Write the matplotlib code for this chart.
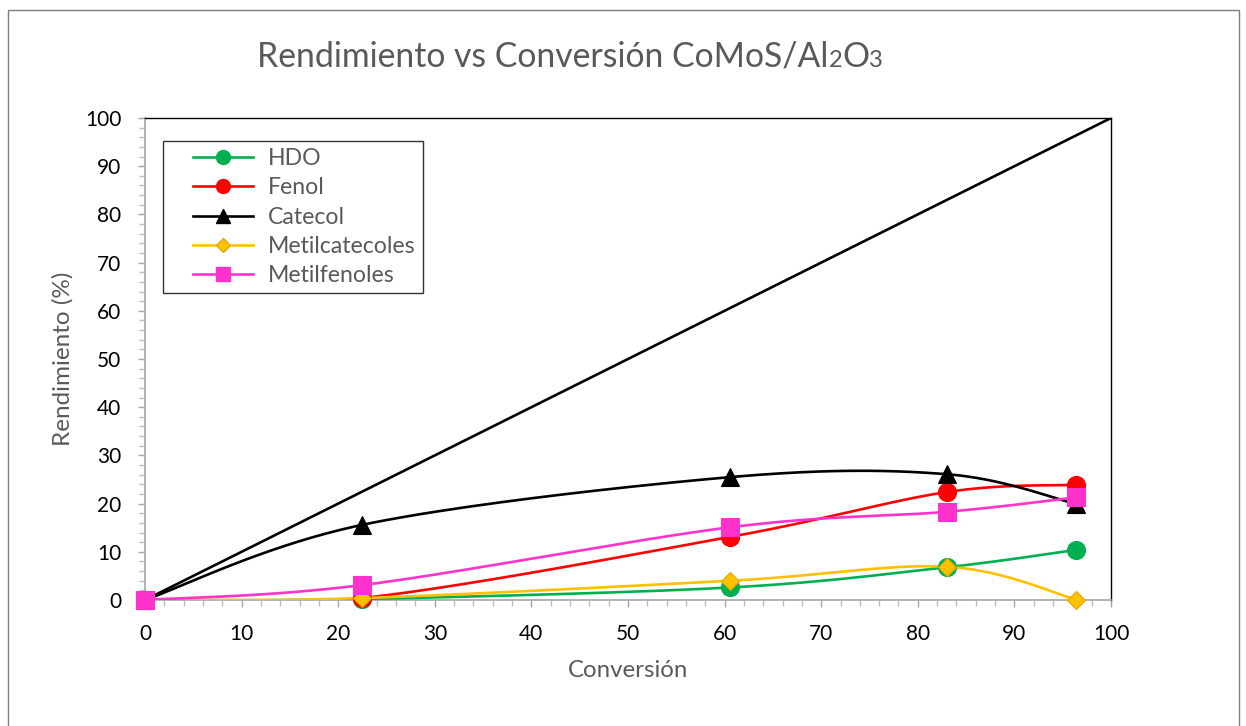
import numpy as np
import matplotlib
matplotlib.use("Agg")
import matplotlib.pyplot as plt
from matplotlib.patches import Rectangle
from matplotlib.legend_handler import HandlerLine2D

# ---- data ----
conversion = [0, 22.5, 60.6, 83.0, 96.4]
hdo = [0, 0.2, 2.6, 6.8, 10.4]
fenol = [0, 0.4, 13.1, 22.4, 23.9]
catecol = [0, 15.6, 25.5, 26.1, 19.9]
metilcatecoles = [0, 0.4, 4.0, 6.9, 0.1]
metilfenoles = [0, 3.1, 15.1, 18.3, 21.3]
diag_x = [0, 100]
diag_y = [0, 100]
xticks = list(range(0, 101, 10))
yticks = list(range(0, 101, 10))

plt.rcParams['font.family'] = ['Lato', 'DejaVu Sans']
GREY = '#595959'


def smooth(x, y, n=40):
    """Excel-like Catmull-Rom smoothing through the points."""
    x = np.asarray(x, float)
    y = np.asarray(y, float)
    P = np.column_stack([x, y])
    P = np.vstack([P[0], P, P[-1]])
    out = []
    for i in range(1, len(P) - 2):
        p0, p1, p2, p3 = P[i - 1], P[i], P[i + 1], P[i + 2]
        c1 = p1 + (p2 - p0) / 6.0
        c2 = p2 - (p3 - p1) / 6.0
        t = np.linspace(0, 1, n)[:, None]
        seg = ((1 - t) ** 3) * p1 + 3 * ((1 - t) ** 2) * t * c1 + 3 * (1 - t) * t ** 2 * c2 + t ** 3 * p2
        out.append(seg if i == 1 else seg[1:])
    s = np.vstack(out)
    return s[:, 0], s[:, 1]


fig = plt.figure(figsize=(12.46, 7.26), dpi=100)
fig.patches.append(Rectangle((8 / 1246, -0.01), 1231 / 1246, 1 - 10 / 726 + 0.01,
                             transform=fig.transFigure, fill=False,
                             edgecolor='#7f7f7f', linewidth=1.0))
ax = fig.add_axes([145 / 1246, 1 - 600 / 726, (1111 - 145) / 1246, (600 - 118) / 726])

ax.plot(diag_x, diag_y, color='black', lw=1.9, zorder=2)

LW = 1.9
series = [
    ('HDO', hdo, '#00B050', 'o', 13, '#00B050', 10),
    ('Fenol', fenol, '#FF0000', 'o', 13, '#FF0000', 10),
    ('Catecol', catecol, '#000000', '^', 13, '#000000', 10),
    ('Metilcatecoles', metilcatecoles, '#FFC000', 'D', 9, '#E0A800', 7),
    ('Metilfenoles', metilfenoles, '#FF33CC', 's', 13.5, '#FF33CC', 9.5),
]
handles = []
for i, (name, vals, col, mk, ms, ec, lms) in enumerate(series):
    sx, sy = smooth(conversion, vals)
    ax.plot(sx, sy, color=col, lw=LW, zorder=3 + i)
    ax.plot(conversion, vals, linestyle='none', marker=mk, markersize=ms,
            markerfacecolor=col, markeredgecolor=ec, markeredgewidth=0.8,
            zorder=10 + i, clip_on=False)
    h, = ax.plot([], [], color=col, lw=LW, marker=mk, markersize=lms,
                 markerfacecolor=col, markeredgecolor=ec, label=name)
    handles.append(h)

ax.set_xlim(0, 100)
ax.set_ylim(0, 100)
ax.set_xticks(xticks)
ax.set_yticks(yticks)
ax.set_xticks(np.arange(0, 101, 2), minor=True)
ax.set_yticks(np.arange(0, 101, 2), minor=True)
ax.tick_params(axis='both', which='major', direction='out', length=5, width=1,
               color='#a6a6a6', labelsize=15, labelcolor='black', pad=12)
ax.tick_params(axis='both', which='minor', direction='out', length=4, width=1,
               color='#bfbfbf')
for s in ['left', 'bottom']:
    ax.spines[s].set_color('#a6a6a6')
    ax.spines[s].set_linewidth(1.2)
for s in ['top', 'right']:
    ax.spines[s].set_color('black')
    ax.spines[s].set_linewidth(1.0)

ax.set_xlabel('Conversión', fontsize=17.3, color=GREY, labelpad=12)
ax.set_ylabel('Rendimiento (%)', fontsize=17.5, color=GREY)
ax.yaxis.set_label_coords(-71 / 966, 0.5)

LFS = 16.6
hm = {h: HandlerLine2D(xpad=0.98) for h in handles}
leg = ax.legend(handles=handles, loc='upper left', bbox_to_anchor=(18 / 966, 1 - 23 / 482),
                fontsize=LFS, frameon=True, fancybox=False, handlelength=3.58,
                borderpad=0.31, labelspacing=0.36, handletextpad=0.66,
                borderaxespad=0, handler_map=hm, numpoints=1)
leg.get_frame().set_edgecolor('black')
leg.get_frame().set_linewidth(1.0)
for t in leg.get_texts():
    t.set_color(GREY)

# title with small "2" and "3"
fig.canvas.draw()
renderer = fig.canvas.get_renderer()
parts = [('Rendimiento vs Conversión CoMoS/Al', 24.3), ('2', 17), ('O', 24.3), ('3', 17)]
x0 = 257 / 1246
yb = 1 - 67 / 726
for txt, fs in parts:
    t = fig.text(x0, yb, txt, fontsize=fs, color=GREY, ha='left', va='baseline')
    bb = t.get_window_extent(renderer)
    x0 = bb.x1 / fig.bbox.width

fig.savefig('out.png', dpi=100)
